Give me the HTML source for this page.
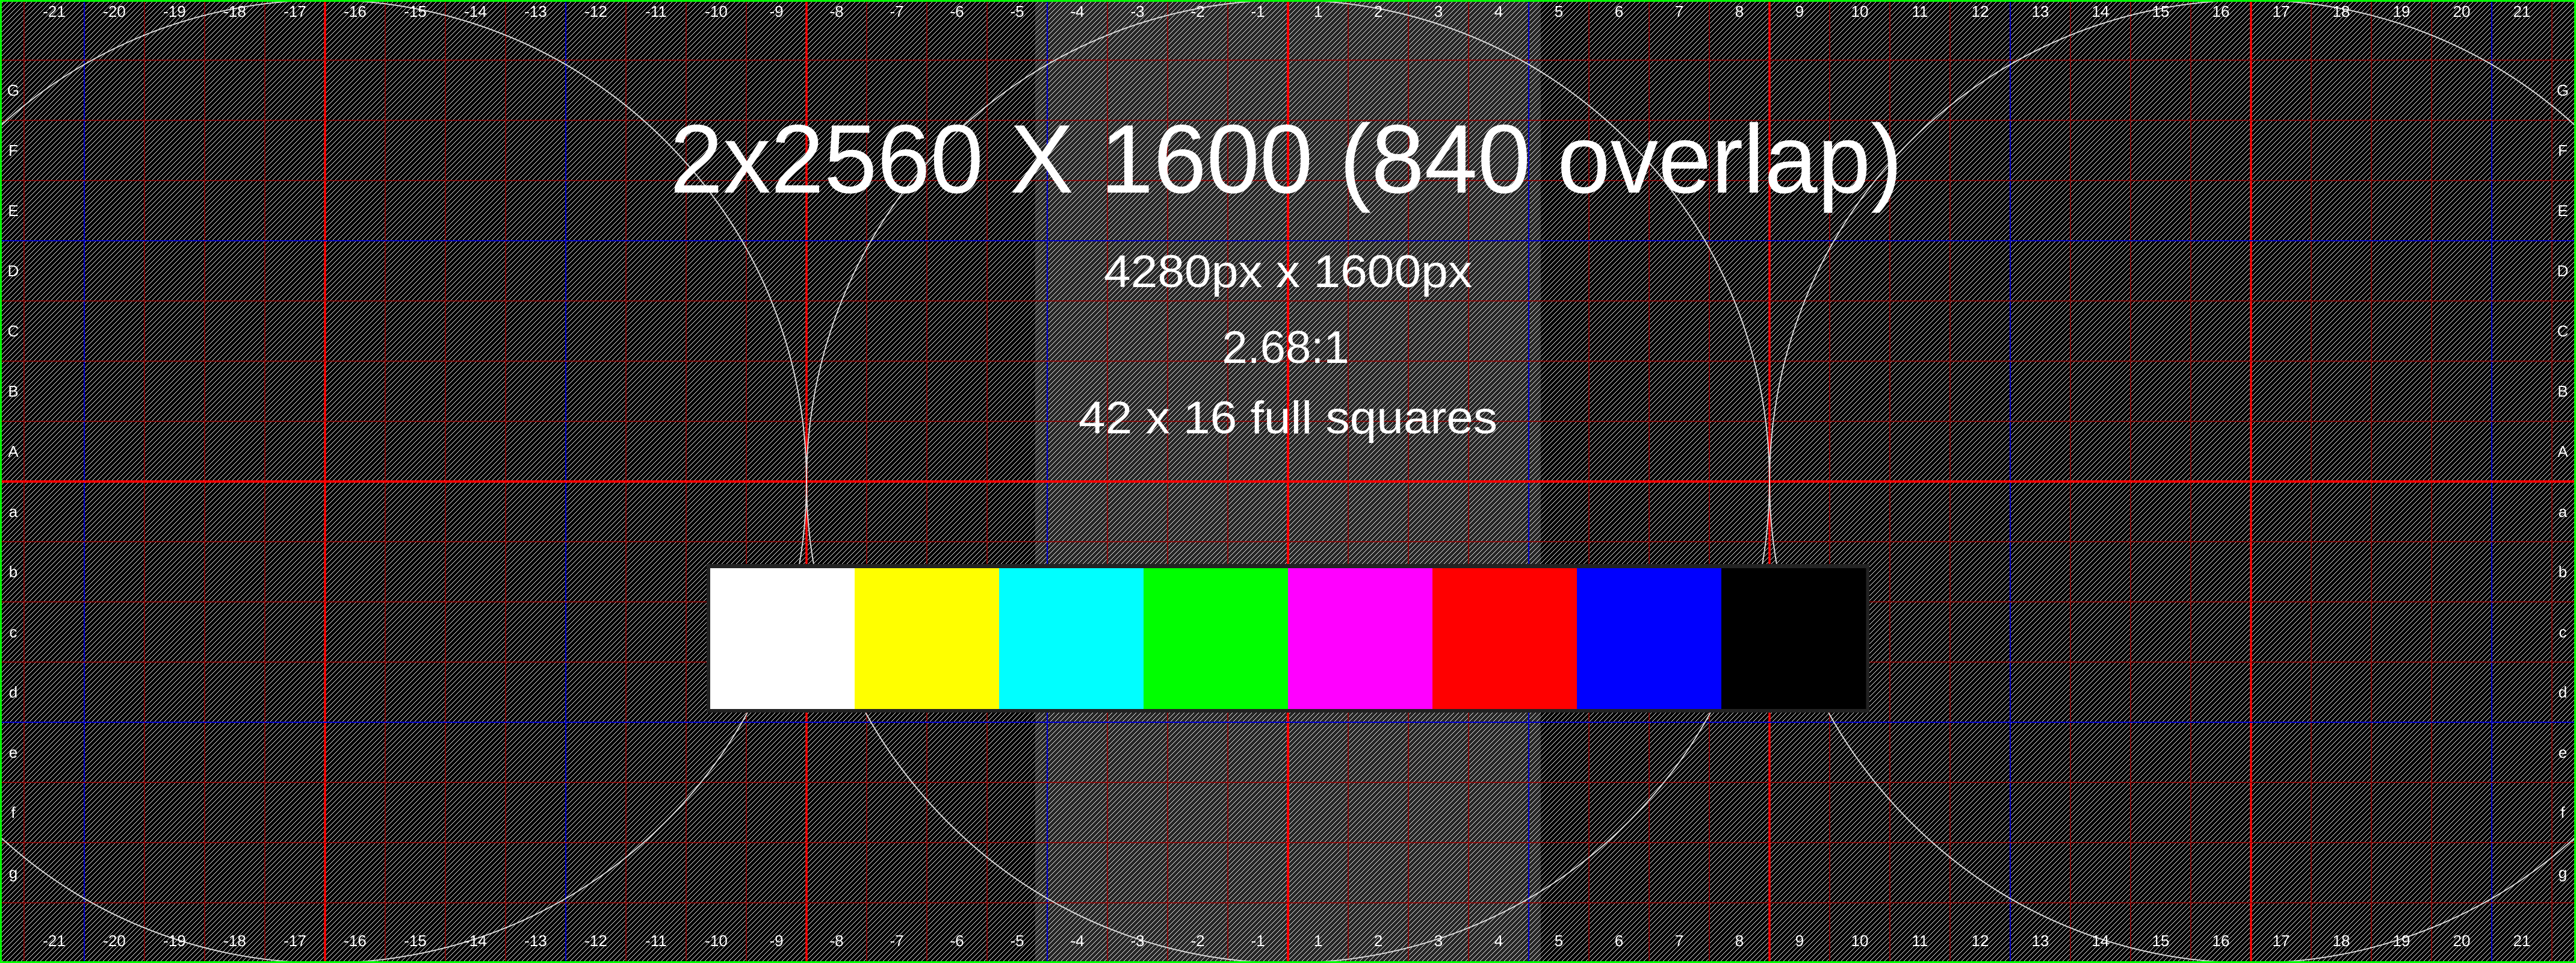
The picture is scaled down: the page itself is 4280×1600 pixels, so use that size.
<!DOCTYPE html>
<html><head><meta charset="utf-8"><style>
html,body{margin:0;padding:0;background:#000;width:4280px;height:1600px;overflow:hidden}
svg{display:block}
text{font-family:"Liberation Sans",Arial,sans-serif;fill:#fff}
</style></head><body>
<svg id="s" width="4280" height="1600" viewBox="0 0 4280 1600" xmlns="http://www.w3.org/2000/svg">
<defs>
<pattern id="hatch" patternUnits="userSpaceOnUse" width="8" height="8">
<g fill="#fff" shape-rendering="crispEdges">
<rect x="7" y="0" width="1" height="1"/><rect x="6" y="1" width="1" height="1"/>
<rect x="5" y="2" width="1" height="1"/><rect x="4" y="3" width="1" height="1"/>
<rect x="3" y="4" width="1" height="1"/><rect x="2" y="5" width="1" height="1"/>
<rect x="1" y="6" width="1" height="1"/><rect x="0" y="7" width="1" height="1"/>
</g>
</pattern>
</defs>
<rect x="0" y="0" width="4280" height="1600" fill="#000"/>
<rect x="1720" y="0" width="840" height="1600" fill="#262626"/>
<rect x="0" y="0" width="4280" height="1600" fill="url(#hatch)" shape-rendering="crispEdges"/>
<g id="grid"></g>
<g id="circles"></g>
<g id="labels"></g>
<g id="bars"></g>
<text x="2137" y="320" font-size="162" text-anchor="middle" textLength="2048" lengthAdjust="spacingAndGlyphs">2x2560 X 1600 (840 overlap)</text>
<text x="2140" y="477" font-size="76" text-anchor="middle" textLength="612" lengthAdjust="spacingAndGlyphs">4280px x 1600px</text>
<text x="2136" y="603" font-size="76" text-anchor="middle">2.68:1</text>
<text x="2140" y="720" font-size="76" text-anchor="middle" textLength="696" lengthAdjust="spacingAndGlyphs">42 x 16 full squares</text>
<rect x="1.5" y="1.5" width="4277" height="1597" fill="none" stroke="#00ff00" stroke-width="3"/>
</svg>
<script>
const colLabels = [-21,-20,-19,-18,-17,-16,-15,-14,-13,-12,-11,-10,-9,-8,-7,-6,-5,-4,-3,-2,-1,1,2,3,4,5,6,7,8,9,10,11,12,13,14,15,16,17,18,19,20,21];
const rowLabels = ["G","F","E","D","C","B","A","a","b","c","d","e","f","g"];
const barColors = ["#ffffff","#ffff00","#00ffff","#00ff00","#ff00ff","#ff0000","#0000ff","#000000"];
const circleCentersX = [540,2140,3740];

const NS="http://www.w3.org/2000/svg";
const CX=2140, CY=800, SQ=100;
const xCol = i => CX + (i - colLabels.length/2)*SQ;
const yRow = j => 100 + j*SQ;
function mk(tag, attrs, parent){const e=document.createElementNS(NS,tag);for(const k in attrs)e.setAttribute(k,attrs[k]);parent.appendChild(e);return e;}
const grid=document.getElementById('grid');
for(let i=0;i<=colLabels.length;i++){
  const x=xCol(i); const off=Math.round(x-CX);
  let stroke="#a00000", w=1.5, name='grid-line-vertical';
  if(off===0){stroke="#ff0000";w=4;name='center-line-vertical';}
  else if(off%800===0){stroke="#ff0000";w=3.5;name='major-line-vertical';}
  else if(off%400===0){stroke="#0000d0";w=2;name='blue-line-vertical';}
  const l=mk('line',{x1:x,y1:0,x2:x,y2:1600,stroke:stroke,'stroke-width':w},grid);
  
  
}
for(let j=0;j<=rowLabels.length;j++){
  const y=yRow(j); const off=y-CY;
  let stroke="#a00000", w=1.5, name='grid-line-horizontal';
  if(off===0){stroke="#ff0000";w=4;name='center-line-horizontal';}
  else if(off%400===0){stroke="#0000d0";w=2;name='blue-line-horizontal';}
  const l=mk('line',{x1:0,y1:y,x2:4280,y2:y,stroke:stroke,'stroke-width':w},grid);
  
  
}
const cg=document.getElementById('circles');
circleCentersX.forEach(cx=>{
  const c=mk('circle',{cx:cx,cy:CY,r:800,fill:'none',stroke:'#d8d8d8','stroke-width':2},cg);
  
  
});
const lg=document.getElementById('labels');
colLabels.forEach((v,i)=>{
  [48,1592].forEach(y=>{
    const t=mk('text',{x:xCol(i)+SQ/2,y:y-20,'font-size':26,'text-anchor':'middle'},lg);
    t.textContent=v;
    
    
  });
});
rowLabels.forEach((v,j)=>{
  [22,4258].forEach(x=>{
    const t=mk('text',{x:x,y:yRow(j)+SQ/2+9,'font-size':26,'text-anchor':'middle'},lg);
    t.textContent=v;
    
    
  });
});
const bg=document.getElementById('bars');
const BX=1180, BY=944, BW=240, BH=234;
const frame=mk('rect',{x:BX-6,y:BY-7,width:BW*barColors.length+12,height:BH+13,fill:'#222'},bg);


barColors.forEach((c,i)=>{
  const r=mk('rect',{x:BX+i*BW,y:BY,width:BW+0.5,height:BH,fill:c},bg);
  
  
});
</script>
</body></html>
